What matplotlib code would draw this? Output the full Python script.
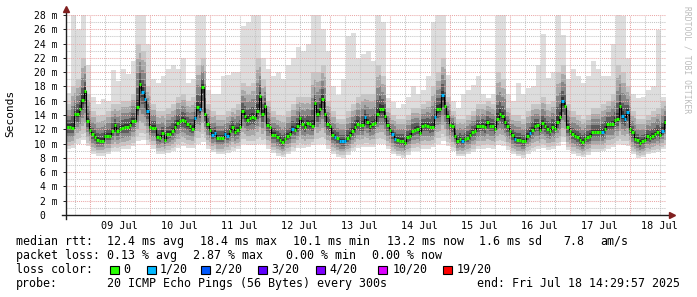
import numpy as np
import matplotlib
matplotlib.use("Agg")
import matplotlib.pyplot as plt
from matplotlib.patches import Rectangle

plt.rcParams['font.family'] = ['DejaVu Sans Mono']

# hourly median rtt in ms, first hour starts Fri Jul 08 14:30
median_ms = [12.3, 12.3, 12.2, 14.1, 14.1, 14.9, 16.1, 17.3, 13.2, 11.9,
             11.3, 10.9, 10.5, 10.4, 10.4, 11.1, 11.1, 11.1, 11.7, 12.6,
             11.7, 12.1, 12.2, 12.3, 12.3, 12.6, 13.2, 13.2, 15.1, 18.4,
             17.2, 16.3, 14.6, 12.3, 12.2, 12.2, 10.9, 10.8, 11.5, 10.5,
             11.3, 11.4, 11.7, 12.3, 12.9, 13.1, 13.3, 13.1, 12.7, 12.4,
             12.1, 13.6, 15.1, 14.8, 17.9, 14.1, 12.7, 11.9, 11.2, 11.5,
             10.8, 10.8, 10.8, 11.3, 11.1, 11.8, 12.3, 11.6, 11.9, 12.3,
             14.5, 13.9, 13.3, 13.6, 13.7, 13.6, 14.6, 16.6, 14.1, 15.2,
             12.6, 12.3, 11.2, 11.2, 10.9, 10.5, 10.2, 10.6, 11.1, 11.3,
             12.1, 11.9, 12.4, 13.6, 12.8, 12.3, 12.9, 12.7, 12.4, 15.7,
             14.1, 14.9, 16.3, 14.1, 12.7, 12.4, 11.2, 10.9, 10.8, 10.3,
             10.3, 10.3, 10.8, 11.2, 11.7, 12.3, 12.8, 12.6, 12.6, 13.7,
             13.0, 12.4, 12.7, 12.9, 14.1, 14.8, 14.8, 13.8, 12.6, 11.9,
             11.3, 10.7, 10.5, 10.4, 10.4, 10.1, 10.9, 11.1, 11.7, 11.9,
             12.1, 11.5, 12.5, 12.6, 12.5, 12.3, 12.3, 13.7, 14.8, 14.9,
             16.8, 15.3, 13.8, 12.6, 12.5, 11.1, 10.3, 10.7, 10.3, 10.7,
             10.8, 11.2, 11.6, 11.8, 12.4, 12.4, 12.5, 12.3, 13.0, 12.5,
             12.5, 12.1, 13.5, 14.2, 13.8, 13.0, 12.5, 11.8, 11.2, 10.6,
             10.5, 10.5, 10.3, 10.3, 11.1, 11.5, 11.9, 12.5, 12.6, 11.9,
             12.9, 12.4, 12.1, 11.8, 12.3, 12.1, 13.0, 13.7, 15.9, 15.3,
             12.3, 11.7, 11.3, 11.1, 10.9, 10.5, 10.2, 10.6, 10.9, 11.1,
             11.6, 11.6, 11.6, 11.6, 11.6, 12.1, 12.7, 12.7, 12.7, 13.3,
             13.4, 15.2, 13.8, 13.4, 14.4, 12.1, 11.6, 10.6, 10.5, 10.1,
             10.3, 10.5, 11.0, 10.8, 11.1, 11.3, 11.6, 11.2, 11.8, 13.0]

# hours with 1/20 pings lost
loss_hours = [30, 31, 32, 51, 53, 58, 59, 63, 64, 90, 107, 109, 110, 111,
              119, 130, 131, 147, 150, 158, 179, 185, 198, 214, 222, 223,
              224, 238]

# smoke envelope in 2 hour blocks (ms)
smoke_lo = [9.2, 9.4, 10.0, 10.5, 9.6, 8.6, 8.3, 8.3, 8.5, 8.9,
            9.0, 9.2, 9.3, 9.6, 10.3, 10.5, 9.8, 9.3, 8.6, 8.5,
            8.7, 9.0, 9.4, 9.6, 9.4, 9.4, 10.0, 10.2, 9.3, 8.8,
            8.5, 8.5, 8.7, 9.0, 9.2, 10.0, 9.8, 9.8, 10.0, 9.9,
            9.3, 8.7, 8.3, 8.1, 8.5, 9.0, 9.4, 9.4, 9.5, 9.8,
            10.0, 10.0, 9.3, 8.6, 8.1, 8.0, 8.4, 9.0, 9.4, 9.5,
            9.5, 9.5, 10.0, 9.9, 9.2, 8.5, 8.2, 8.0, 8.4, 8.9,
            9.0, 9.3, 9.3, 9.5, 10.0, 10.3, 9.6, 9.0, 8.2, 8.2,
            8.5, 8.8, 9.2, 9.3, 9.4, 9.3, 9.8, 9.7, 9.1, 8.5,
            8.2, 8.0, 8.6, 9.0, 9.2, 9.4, 9.1, 9.2, 9.6, 10.2,
            9.1, 8.6, 8.3, 8.1, 8.4, 8.8, 8.8, 8.9, 9.3, 9.5,
            9.9, 9.8, 9.6, 8.5, 8.0, 8.1, 8.5, 8.7, 8.8, 9.2]
smoke_mid = [15.5, 18, 19, 22, 17, 14.5, 13.8, 14, 14.5, 15.5,
             15.5, 16, 16, 17, 24, 23, 18, 15.5, 14.5, 14.5,
             15, 15.5, 16.5, 17, 16, 16.5, 21, 22, 15.5, 14.5,
             14, 14, 14.5, 15, 15.5, 18.5, 18, 18.5, 22, 19,
             16, 14.5, 14, 13.8, 14.5, 15.5, 16.5, 16.5, 16.5, 20,
             20, 21, 16, 14.5, 13.5, 13.5, 14.5, 15.5, 16.5, 17,
             17, 17, 21, 19.5, 15, 14, 13.5, 13.5, 14, 15,
             15, 15.5, 16, 18, 20, 22, 16.5, 14.5, 13.5, 13.5,
             14, 14.5, 15.5, 15.5, 16, 15.5, 20, 19, 15, 14,
             14, 13.5, 14.5, 15.5, 15.5, 16.5, 15.5, 16, 20, 21,
             15.5, 14.5, 14, 13.5, 14, 15, 15, 15.5, 16, 17,
             21, 20, 18, 14.5, 13.5, 13.5, 14, 14.5, 15, 16]
smoke_hi = [17.1, 28.5, 26, 28.5, 21, 16.5, 15.5, 16.3, 16, 20.3,
            18.8, 20.5, 19.8, 21.5, 28.5, 28.5, 24, 19, 18.5, 19.5,
            20.5, 21, 20.5, 22, 18.5, 19, 28.5, 28.5, 17.5, 17,
            17, 19.5, 19.6, 20, 20, 26.5, 27, 28.5, 28.5, 22,
            20.5, 19.5, 20, 19, 21, 22, 23.5, 23, 24, 28.5,
            28.5, 26, 23, 18, 16.8, 19, 25, 25.5, 22, 22.5,
            23, 21.5, 28.5, 27, 16.4, 15.8, 15, 15.5, 16.5, 18,
            17, 17.5, 19.5, 27, 28.5, 28.5, 19.6, 16, 15, 17,
            17.5, 18.2, 19.5, 17, 16.4, 17, 28.5, 28.5, 17, 16,
            18.5, 17, 17.8, 18, 21, 25.4, 19.2, 20, 28.5, 25.2,
            19, 20.5, 19.5, 18.5, 19.5, 21.5, 20.5, 19.5, 19.5, 24,
            28.5, 27.8, 22, 17, 16.4, 16.5, 17.5, 18, 25.9, 16.5]

day_labels = ['09 Jul', '10 Jul', '11 Jul', '12 Jul', '13 Jul',
              '14 Jul', '15 Jul', '16 Jul', '17 Jul', '18 Jul']
first_midnight = 9.5   # hours from graph start to 09 Jul 00:00
y_ticks = list(range(0, 29, 2))

loss_names = ['0', '1/20', '2/20', '3/20', '4/20', '10/20', '19/20']
loss_colors = ['#26ff00', '#00b8ff', '#0059ff', '#5e00ff', '#7e00ff',
               '#dd00ff', '#ff0000']

W, H = 697, 297
fig = plt.figure(figsize=(W / 100, H / 100), dpi=100)
fig.patch.set_facecolor('white')
ax = fig.add_axes([66 / W, 1 - 215 / H, 600 / W, 200.5 / H])
ax.set_xlim(0, 240)
ax.set_ylim(0, 28.07)
for s in ax.spines.values():
    s.set_visible(False)

hours = np.arange(241)
med = np.append(median_ms, median_ms[-1])
lo = np.repeat(smoke_lo, 2)
lo = np.append(lo, lo[-1])
mid = np.repeat(smoke_mid, 2)
mid = np.append(mid, mid[-1])
hi = np.repeat(smoke_hi, 2)
hi = np.append(hi, hi[-1])

# smoke, lightest outside, darkest near the median
ax.fill_between(hours, lo, hi, step='post', color='#dddddd', lw=0, zorder=1)
for f, c in [(0.85, '#c6c6c6'), (0.65, '#a8a8a8'), (0.45, '#868686'),
             (0.25, '#5c5c5c'), (0.1, '#343434')]:
    ax.fill_between(hours, med - f * (med - lo), med + f / 0.85 * (mid - med),
                    step='post', color=c, lw=0, zorder=1)

# grid
for v in range(1, 29):
    ax.axhline(v, color='#eaa8a8' if v % 2 == 0 else '#c4c4c4', lw=0.75,
               ls=(0, (1, 1)), zorder=2)
for h in np.arange(first_midnight - 6, 240, 6):
    red = abs((h - first_midnight) % 24) < 1e-6
    ax.axvline(h, color='#eaa8a8' if red else '#c4c4c4', lw=0.75,
               ls=(0, (1, 1)), zorder=2)

# median
ax.step(hours, med, where='post', color='black', lw=0.8, zorder=3)
cols = [loss_colors[1] if h in loss_hours else loss_colors[0] for h in range(240)]
ax.hlines(median_ms, hours[:-1], hours[1:], colors=cols, lw=2.2, zorder=4)

# axes with arrows
ax.plot([-1.6, 241.6], [0, 0], color='#1f1f1f', lw=1.0, clip_on=False, zorder=5)
ax.plot([242.2], [0], marker='>', ms=4, color='#801f1f', clip_on=False, zorder=6)
ax.plot([0, 0], [-0.56, 28.7], color='#1f1f1f', lw=1.0, clip_on=False, zorder=5)
ax.plot([0], [28.85], marker='^', ms=4, color='#801f1f', clip_on=False, zorder=6)

ax.set_yticks(y_ticks)
ax.set_yticklabels(['0  '] + ['%d m' % v for v in y_ticks[1:]])
ax.tick_params(axis='y', length=2, width=0.7, color='#1f1f1f', pad=4, labelsize=7)
ax.set_xticks([first_midnight + 12 + 24 * i for i in range(len(day_labels))])
ax.set_xticklabels(day_labels)
ax.tick_params(axis='x', length=0, pad=4, labelsize=7.3)

fig.text(10 / W, 1 - 113 / H, 'Seconds', rotation=90, fontsize=8,
         ha='center', va='center')
fig.text(687 / W, 1 - 60 / H, 'RRDTOOL / TOBI OETIKER', rotation=270,
         fontsize=5.8, color='#bbbbbb', ha='center', va='center')

fs = 8.4


def put(x, y, s, ha='left'):
    fig.text(x / W, 1 - y / H, s, fontsize=fs, ha=ha, va='center')


put(16, 241.5, 'median rtt:')
for x, s in [(107, '12.4 ms avg'), (200.5, '18.4 ms max'), (293, '10.1 ms min'),
             (386.5, '13.2 ms now'), (479, '1.6 ms sd'), (563, '7.8'), (600, 'am/s')]:
    put(x, 241.5, s)
put(16, 255.5, 'packet loss:')
for x, s in [(107, '0.13 % avg'), (193.5, '2.87 % max'), (286.5, '0.00 % min'),
             (372, '0.00 % now')]:
    put(x, 255.5, s)
put(16, 269.5, 'loss color:')
box_x = [110, 147, 201, 258, 316, 378, 443]
text_x = [123.5, 160, 214, 271.5, 329, 392.5, 457]
for bx, tx, name, c in zip(box_x, text_x, loss_names, loss_colors):
    fig.patches.append(Rectangle((bx / W, 1 - 274 / H), 8.5 / W, 8.5 / H,
                                 transform=fig.transFigure, facecolor=c,
                                 edgecolor='black', lw=0.8))
    put(tx, 269.5, name)
put(16, 283.5, 'probe:')
put(107, 283.5, '20 ICMP Echo Pings (56 Bytes) every 300s')
put(680, 283.5, 'end: Fri Jul 18 14:29:57 2025', ha='right')

fig.savefig('out.png', dpi=100, facecolor='white')
